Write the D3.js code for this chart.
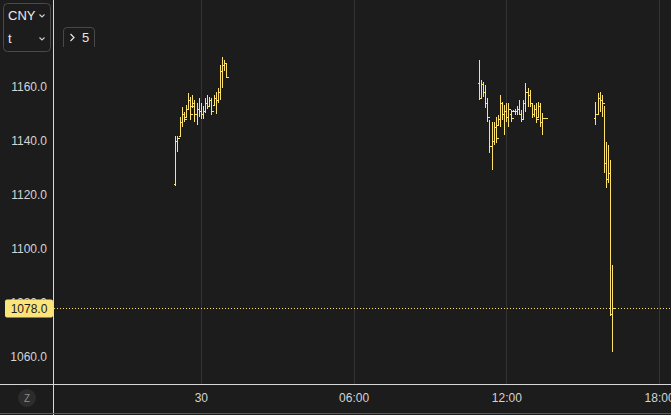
<!DOCTYPE html>
<html><head><meta charset="utf-8">
<script src="https://cdn.jsdelivr.net/npm/d3@7"></script>
<style>
html,body{margin:0;padding:0;background:#1c1c1c;overflow:hidden;}
svg{display:block;font-family:"Liberation Sans",Arial,sans-serif;}
</style></head>
<body><svg id="c" width="671" height="415"></svg>
<script>
// ---- data ----
const times = [
 "2024-01-29T23:00","2024-01-29T23:05","2024-01-29T23:10","2024-01-29T23:15","2024-01-29T23:20","2024-01-29T23:25","2024-01-29T23:30","2024-01-29T23:35","2024-01-29T23:40","2024-01-29T23:45","2024-01-29T23:50","2024-01-29T23:55",
 "2024-01-30T00:00","2024-01-30T00:05","2024-01-30T00:10","2024-01-30T00:15","2024-01-30T00:20","2024-01-30T00:25","2024-01-30T00:30","2024-01-30T00:35","2024-01-30T00:40","2024-01-30T00:45","2024-01-30T00:50","2024-01-30T00:55","2024-01-30T01:00",
 "2024-01-30T10:55","2024-01-30T11:00","2024-01-30T11:05","2024-01-30T11:10","2024-01-30T11:15","2024-01-30T11:20","2024-01-30T11:25","2024-01-30T11:30","2024-01-30T11:35","2024-01-30T11:40","2024-01-30T11:45","2024-01-30T11:50","2024-01-30T11:55",
 "2024-01-30T12:00","2024-01-30T12:05","2024-01-30T12:10","2024-01-30T12:15","2024-01-30T12:20","2024-01-30T12:25","2024-01-30T12:30","2024-01-30T12:35","2024-01-30T12:40","2024-01-30T12:45","2024-01-30T12:50","2024-01-30T12:55",
 "2024-01-30T13:00","2024-01-30T13:05","2024-01-30T13:10","2024-01-30T13:15","2024-01-30T13:20","2024-01-30T13:25","2024-01-30T13:30",
 "2024-01-30T15:30","2024-01-30T15:35","2024-01-30T15:40","2024-01-30T15:45","2024-01-30T15:50","2024-01-30T15:55","2024-01-30T16:00","2024-01-30T16:05","2024-01-30T16:10"
];
const opens = [
 1124,1140,1142,1147,1150,1149,1152,1155,1153,1153,1150,1152,1151,1150,1151,1154,1153,1155,1153.5,1156,1155,1158,1166,1168,1169,
 1161.5,1156,1161,1158,1154,1149,1138,1140,1145,1146,1148,1154,1150,1151,1149,1150,1151,1151,1151,1152,1150,1148,1154,1158,1157,1154,1150,1152,1149,1153,1147,1148.5,
 1148.5,1150,1156,1155,1154,1132,1126,1128,1076
];
const highs = [
 1142,1142,1149,1152.6,1150.7,1153.3,1157.8,1156.3,1157,1155,1154,1156,1154,1153,1156,1157,1156.3,1156,1157,1158,1159.6,1168,1171,1170,1169,
 1170,1162.6,1161.9,1160.7,1156,1147.8,1147,1147,1148.9,1149.6,1157,1154.4,1153.3,1154,1154,1151.5,1151.5,1152,1153,1155.2,1151.5,1155.2,1161.5,1159.6,1158.9,1154,1153.3,1154,1154.4,1154,1150.4,1148.5,
 1154.4,1157.8,1158.2,1157,1153,1139.6,1138.5,1133,1094
];
const lows = [
 1123.5,1136,1141.5,1145.2,1147,1148.5,1151.5,1147.8,1152.2,1147,1146,1149,1148,1148,1150.5,1152,1152.6,1149.6,1153.3,1150,1154,1155,1159.6,1166,1163.5,
 1155.2,1156,1156.3,1152.2,1147,1135.5,1129.3,1138.5,1139.3,1146,1145.2,1147.8,1142.2,1147,1145.2,1147,1150.7,1149.5,1149.5,1149.6,1147,1147.8,1150.7,1152.6,1152.6,1148.5,1148.9,1146.7,1148.9,1145.2,1142.2,1148.5,
 1146,1150,1150.7,1149,1128,1122.6,1124.4,1075,1062
];
const closes = [
 1140,1141,1147,1150,1148,1152,1155,1150,1154,1150,1152,1151,1150,1151,1154,1153,1155,1151,1156,1155,1158,1166,1168,1169,1163.7,
 1156,1161,1158,1154,1149,1138,1140,1145,1141,1148,1154,1150,1151,1149,1152,1148.5,1151,1151,1152,1150,1148,1154,1158,1157,1154,1150,1152,1148,1153,1147,1148.5,1148.5,
 1150,1156,1155,1154,1132,1126,1128,1076,1078
];
const yTicks = [1060,1080,1100,1120,1140,1160];
const xTickTimes = ["2024-01-30T00:00","2024-01-30T06:00","2024-01-30T12:00","2024-01-30T18:00"];
const xTickLabels = ["30","06:00","12:00","18:00"];
const lastPrice = 1078.0;
const currency = "CNY";
const intervalLabel = "t";
const badgeLabel = "5";

// ---- layout ----
const W = 671, H = 415;
const axisW = 53, plotBottom = 384;
const parse = d3.isoParse;
const svg = d3.select("#c");
const BG = "#1c1c1c", BAR = "#fce26b", TXT = "#d4d4d4";

svg.append("rect").attr("width",W).attr("height",H).attr("fill",BG);

const x = d3.scaleTime()
  .domain([parse("2024-01-29T18:14"), parse("2024-01-30T18:28")])
  .range([axisW+1, W]);
const y = d3.scaleLinear().domain([1050, 1192.2]).range([plotBottom, 0]);

svg.append("defs").append("clipPath").attr("id","pc")
  .append("rect").attr("x",axisW+1).attr("y",0).attr("width",W-axisW-1).attr("height",plotBottom);

const plot = svg.append("g").attr("clip-path","url(#pc)");

// vertical grid
plot.selectAll("line.grid").data(xTickTimes).join("line")
  .attr("class","grid")
  .attr("x1",d=>Math.round(x(parse(d)))+0.5).attr("x2",d=>Math.round(x(parse(d)))+0.5)
  .attr("y1",0).attr("y2",plotBottom)
  .attr("stroke","#333333").attr("stroke-width",1);

// OHLC bars
const n = Math.min(times.length, opens.length, highs.length, lows.length, closes.length);
const bars = d3.range(n).map(i=>({t:parse(times[i]),o:opens[i],h:highs[i],l:lows[i],c:closes[i]}));
const g = plot.append("g").attr("stroke",BAR).attr("stroke-width",1).attr("fill","none").attr("shape-rendering","crispEdges");
bars.forEach(b=>{
  const cx = Math.round(x(b.t))+0.5;
  let yh = y(b.h), yl = y(b.l);
  if (yl - yh < 1) yl = yh + 1;
  g.append("line").attr("x1",cx).attr("x2",cx).attr("y1",yh).attr("y2",yl);
  g.append("line").attr("x1",cx-2).attr("x2",cx).attr("y1",Math.round(y(b.o))+0.5).attr("y2",Math.round(y(b.o))+0.5);
  g.append("line").attr("x1",cx).attr("x2",cx+2).attr("y1",Math.round(y(b.c))+0.5).attr("y2",Math.round(y(b.c))+0.5);
});

// last price dotted line
plot.append("line")
  .attr("x1",axisW+1).attr("x2",W)
  .attr("y1",Math.round(y(lastPrice))+0.5).attr("y2",Math.round(y(lastPrice))+0.5)
  .attr("stroke",BAR).attr("stroke-width",1).attr("stroke-dasharray","1,2");

// y axis
const yAxis = d3.axisLeft(y).tickValues(yTicks).tickFormat(d3.format(".1f")).tickSize(0).tickPadding(6);
const ya = svg.append("g").attr("transform",`translate(${axisW},0)`).call(yAxis);
ya.select(".domain").remove();
ya.selectAll("text").attr("fill",TXT).attr("font-size",12).attr("font-family","Liberation Sans, Arial, sans-serif");

// x axis
const xAxis = d3.axisBottom(x).tickValues(xTickTimes.map(parse))
  .tickFormat((d,i)=>xTickLabels[i]).tickSize(0).tickPadding(9);
const xa = svg.append("g").attr("transform",`translate(0,${plotBottom})`).call(xAxis);
xa.select(".domain").remove();
xa.selectAll("text").attr("fill",TXT).attr("font-size",12).attr("font-family","Liberation Sans, Arial, sans-serif");

// frame lines
svg.append("line").attr("x1",axisW+0.5).attr("x2",axisW+0.5).attr("y1",0).attr("y2",H)
  .attr("stroke","#d8d8d8").attr("stroke-width",1);
svg.append("line").attr("x1",0).attr("x2",W).attr("y1",plotBottom+0.5).attr("y2",plotBottom+0.5)
  .attr("stroke","#d8d8d8").attr("stroke-width",1);
svg.append("line").attr("x1",0).attr("x2",W).attr("y1",413.5).attr("y2",413.5)
  .attr("stroke","#5a5a5a").attr("stroke-width",1);

// last price label
const ly = y(lastPrice);
svg.append("rect").attr("x",5).attr("y",ly-9).attr("width",axisW-5).attr("height",18).attr("rx",2)
  .attr("fill","#fbe57a");
svg.append("text").attr("x",(5+axisW)/2).attr("y",ly+4.5).attr("text-anchor","middle")
  .attr("font-size",12).attr("fill","#1c1c1c").text(d3.format(".1f")(lastPrice));

// top-left selector box
const sel = svg.append("g");
sel.append("rect").attr("x",3.5).attr("y",3.5).attr("width",47).attr("height",48).attr("rx",4)
  .attr("fill",BG).attr("stroke","#4a4a4a");
sel.append("text").attr("x",8).attr("y",20).attr("font-size",13).attr("fill","#ececec").text(currency);
sel.append("text").attr("x",8).attr("y",43).attr("font-size",13).attr("fill","#ececec").text(intervalLabel);
[14.5,37.5].forEach(cy=>{
  sel.append("path").attr("d",`M39.5,${cy} L42,${cy+2.5} L44.5,${cy}`).attr("fill","none")
    .attr("stroke","#cfcfcf").attr("stroke-width",1.1);
});

// "> 5" badge
const bd = svg.append("g");
bd.append("path").attr("d","M63.5,47 L63.5,31 Q63.5,27.5 67,27.5 L91,27.5 Q94.5,27.5 94.5,31 L94.5,47")
  .attr("fill","none").attr("stroke","#484848");
bd.append("path").attr("d","M70.5,34 L74,37.5 L70.5,41").attr("fill","none").attr("stroke","#e6e6e6").attr("stroke-width",1.2);
bd.append("text").attr("x",82).attr("y",42).attr("font-size",13).attr("fill","#e6e6e6").text(badgeLabel);

// Z button
svg.append("circle").attr("cx",27).attr("cy",398).attr("r",9).attr("fill","#2c2c2c");
svg.append("text").attr("x",27).attr("y",402).attr("text-anchor","middle").attr("font-size",10)
  .attr("fill","#8a8a8a").text("Z");
</script></body></html>
